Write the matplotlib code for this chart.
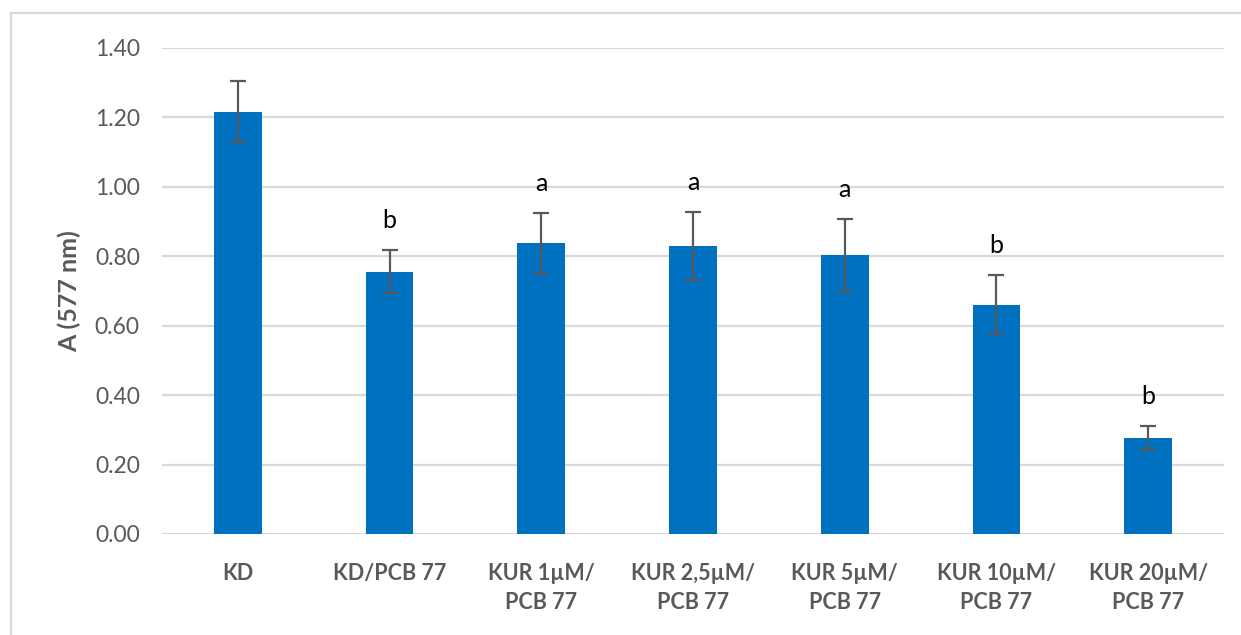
import matplotlib
matplotlib.use("Agg")
import matplotlib.pyplot as plt
from matplotlib.lines import Line2D

plt.rcParams['font.family'] = ['Lato', 'DejaVu Sans']

categories = ['KD', 'KD/PCB 77', 'KUR 1µM/\nPCB 77', 'KUR 2,5µM/\nPCB 77',
              'KUR 5µM/\nPCB 77', 'KUR 10µM/\nPCB 77', 'KUR 20µM/\nPCB 77']
values = [1.216, 0.755, 0.837, 0.830, 0.803, 0.660, 0.277]
errors = [0.088, 0.062, 0.088, 0.098, 0.105, 0.085, 0.034]
letters = ['', 'b', 'a', 'a', 'a', 'b', 'b']

grey = '#595959'
blue = '#0070C0'

fig = plt.figure(figsize=(12.41, 6.35), dpi=100)
ax = fig.add_axes([162 / 1241, 1 - 534 / 635, (1224 - 162) / 1241, (534 - 48) / 635])

x = range(len(categories))
ax.bar(x, values, width=0.315, color=blue, zorder=2)
ax.errorbar(x, values, yerr=errors, fmt='none', ecolor=grey, elinewidth=1.6,
            capsize=6, capthick=1.6, zorder=3)

for i, (v, e, t) in enumerate(zip(values, errors, letters)):
    if t:
        ax.annotate(t, (i, v + e), xytext=(0, 13), textcoords='offset points',
                    ha='center', va='bottom', fontsize=18, color='black')

ax.set_xlim(-0.5, len(categories) - 0.5)
ax.set_ylim(0, 1.4)
ax.set_yticks([0, 0.2, 0.4, 0.6, 0.8, 1.0, 1.2, 1.4])
ax.set_yticklabels(['%.2f' % t for t in ax.get_yticks()])
ax.set_xticks(list(x))
ax.set_xticklabels(categories, fontweight='bold', linespacing=1.45)
ax.tick_params(axis='y', length=0, colors=grey, labelsize=16.5, pad=16)
ax.tick_params(axis='x', length=0, colors=grey, labelsize=15.5, pad=21)
ax.yaxis.grid(True, color='#d9d9d9', linewidth=1.6, zorder=0)
ax.set_axisbelow(True)
for s in ax.spines.values():
    s.set_visible(False)

ax.set_ylabel('A (577 nm)', fontsize=18, fontweight='bold', color=grey, labelpad=10)

# chart border (cut off at right and bottom)
fig.add_artist(Line2D([10.5 / 1241, 10.5 / 1241], [0, 1 - 13 / 635],
                      transform=fig.transFigure, color='#d9d9d9', lw=1.5))
fig.add_artist(Line2D([10.5 / 1241, 1], [1 - 13 / 635, 1 - 13 / 635],
                      transform=fig.transFigure, color='#d9d9d9', lw=1.5))

fig.savefig('out.png', dpi=100)
